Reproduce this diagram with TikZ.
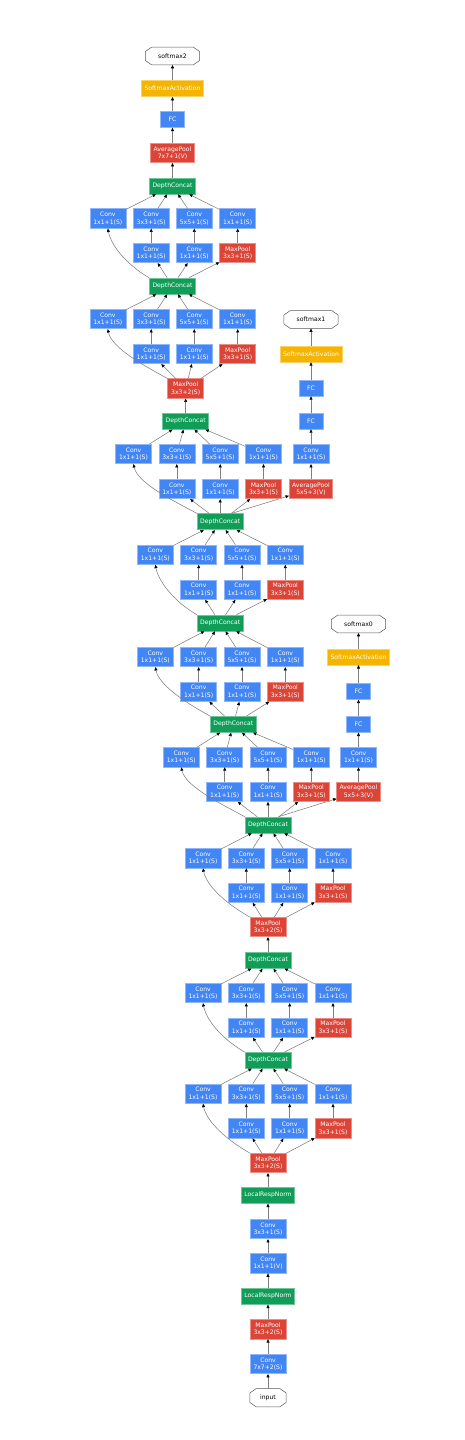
\documentclass[tikz,border=0pt]{standalone}
\usepackage{fontspec}
\setmainfont{DejaVu Sans}
\usetikzlibrary{arrows.meta}
\definecolor{gblue}{HTML}{4285F4}
\definecolor{gred}{HTML}{DB4437}
\definecolor{ggreen}{HTML}{0F9D58}
\definecolor{gyellow}{HTML}{F4B400}
\tikzset{
  box/.style={rectangle, text=white, font=\fontsize{6.1}{7.6}\selectfont, align=center, inner sep=1pt, line width=0.6pt},
  convb/.style={box, fill=gblue, draw=gblue!60!white, minimum width=36pt, minimum height=19.5pt},
  poolb/.style={box, fill=gred, draw=gred!60!white, minimum width=36pt, minimum height=19.5pt},
  avgb/.style={box, fill=gred, draw=gred!60!white, minimum width=43.5pt, minimum height=19.5pt},
  dcb/.style={box, fill=ggreen, draw=ggreen!60!white, minimum width=46pt, minimum height=16pt},
  lrnb/.style={box, fill=ggreen, draw=ggreen!60!white, minimum width=53pt, minimum height=16pt},
  fcb/.style={box, fill=gblue, draw=gblue!60!white, minimum width=24pt, minimum height=16pt},
  sab/.style={box, fill=gyellow, draw=gyellow!60!white, minimum width=62pt, minimum height=16pt},
  octline/.style={draw=black!65, line width=0.5pt},
  octb/.style={rectangle, text=black, font=\fontsize{6.1}{7.6}\selectfont,
    minimum width=54pt, minimum height=17.5pt, inner sep=1pt,
    append after command={\pgfextra{\let\octn\tikzlastnode
      \draw[octline] ([xshift=6.5pt]\octn.north west) -- ([xshift=-6.5pt]\octn.north east)
        -- ([yshift=-4.5pt]\octn.north east) -- ([yshift=4.5pt]\octn.south east)
        -- ([xshift=-6.5pt]\octn.south east) -- ([xshift=6.5pt]\octn.south west)
        -- ([yshift=4.5pt]\octn.south west) -- ([yshift=-4.5pt]\octn.north west) -- cycle;}}},
  arr/.style={draw=black!50, line width=0.55pt, -{Triangle[length=3.4pt,width=3pt,color=black]}},
}
\newcommand\incep[9]{%
  \node[convb] (#1a) at (#4,#8) {Conv\\1x1+1(S)};
  \node[convb] (#1b) at (#5,#8) {Conv\\3x3+1(S)};
  \node[convb] (#1c) at (#6,#8) {Conv\\5x5+1(S)};
  \node[convb] (#1d) at (#7,#8) {Conv\\1x1+1(S)};
  \node[convb] (#1e) at (#5,#9) {Conv\\1x1+1(S)};
  \node[convb] (#1f) at (#6,#9) {Conv\\1x1+1(S)};
  \node[poolb] (#1g) at (#7,#9) {MaxPool\\3x3+1(S)};
  \draw[arr] (#2.north west) .. controls +(-18,-10) and +(4,20) .. (#1a.south);
  \draw[arr] (#2) -- (#1e);
  \draw[arr] (#2) -- (#1f);
  \draw[arr] (#2) -- (#1g);
  \draw[arr] (#1e) -- (#1b);
  \draw[arr] (#1f) -- (#1c);
  \draw[arr] (#1g) -- (#1d);
  \draw[arr] (#1a) -- (#3);
  \draw[arr] (#1b) -- (#3);
  \draw[arr] (#1c) -- (#3);
  \draw[arr] (#1d) -- (#3);
}
\begin{document}
\begin{tikzpicture}[x=1pt,y=-1pt]
\path[use as bounding box, fill=white] (0,0) rectangle (465,1440);
% main trunk
\node[octb] (sm2) at (172.5,56) {softmax2};
\node[sab] (sa2) at (172.5,88.7) {SoftmaxActivation};
\node[fcb] (fc2) at (172.5,119.5) {FC};
\node[avgb] (avg2) at (172.5,153) {AveragePool\\7x7+1(V)};
\node[dcb] (dc9) at (172.5,186) {DepthConcat};
\node[dcb] (dc8) at (172.5,286) {DepthConcat};
\node[poolb] (mp4) at (185.7,388.5) {MaxPool\\3x3+2(S)};
\node[dcb] (dc7) at (185.7,421.3) {DepthConcat};
\node[dcb] (dc6) at (220.2,521.7) {DepthConcat};
\node[dcb] (dc5) at (220.2,623) {DepthConcat};
\node[dcb] (dc4) at (233.3,724.3) {DepthConcat};
\node[dcb] (dc3) at (268,825) {DepthConcat};
\node[poolb] (mp3) at (268,927) {MaxPool\\3x3+2(S)};
\node[dcb] (dc2) at (268,960.3) {DepthConcat};
\node[dcb] (dc1) at (268,1060.3) {DepthConcat};
\node[poolb] (mp2) at (268,1163) {MaxPool\\3x3+2(S)};
\node[lrnb] (lrn2) at (268,1195.3) {LocalRespNorm};
\node[convb] (cv3) at (268,1229) {Conv\\3x3+1(S)};
\node[convb] (cv2) at (268,1263.3) {Conv\\1x1+1(V)};
\node[lrnb] (lrn1) at (268,1296.3) {LocalRespNorm};
\node[poolb] (mp1) at (268,1329.2) {MaxPool\\3x3+2(S)};
\node[convb] (cv1) at (268,1364) {Conv\\7x7+2(S)};
\node[octb, minimum width=36pt, minimum height=18pt] (inp) at (268,1397.7) {input};
% auxiliary classifier 1
\node[avgb] (a1avg) at (311,489) {AveragePool\\5x5+3(V)};
\node[convb] (a1cv) at (311,454) {Conv\\1x1+1(S)};
\node[fcb] (a1fca) at (311,421) {FC};
\node[fcb] (a1fcb) at (311,388) {FC};
\node[sab] (a1sa) at (311,354) {SoftmaxActivation};
\node[octb] (sm1) at (311,319.5) {softmax1};
% auxiliary classifier 0
\node[avgb] (a0avg) at (358.5,791.8) {AveragePool\\5x5+3(V)};
\node[convb] (a0cv) at (358.5,757.2) {Conv\\1x1+1(S)};
\node[fcb] (a0fca) at (358.5,724.3) {FC};
\node[fcb] (a0fcb) at (358.5,691.3) {FC};
\node[sab] (a0sa) at (358.5,656.8) {SoftmaxActivation};
\node[octb] (sm0) at (358.5,624) {softmax0};
% trunk edges
\draw[arr] (inp) -- (cv1);
\draw[arr] (cv1) -- (mp1);
\draw[arr] (mp1) -- (lrn1);
\draw[arr] (lrn1) -- (cv2);
\draw[arr] (cv2) -- (cv3);
\draw[arr] (cv3) -- (lrn2);
\draw[arr] (lrn2) -- (mp2);
\draw[arr] (dc2) -- (mp3);
\draw[arr] (dc7) -- (mp4);
\draw[arr] (dc9) -- (avg2);
\draw[arr] (avg2) -- (fc2);
\draw[arr] (fc2) -- (sa2);
\draw[arr] (sa2) -- (sm2);
% aux edges
\draw[arr] ([xshift=11.5pt]dc6.north) -- (a1avg);
\draw[arr] (a1avg) -- (a1cv);
\draw[arr] (a1cv) -- (a1fca);
\draw[arr] (a1fca) -- (a1fcb);
\draw[arr] (a1fcb) -- (a1sa);
\draw[arr] (a1sa) -- (sm1);
\draw[arr] ([xshift=10.5pt]dc3.north) -- (a0avg);
\draw[arr] (a0avg) -- (a0cv);
\draw[arr] (a0cv) -- (a0fca);
\draw[arr] (a0fca) -- (a0fcb);
\draw[arr] (a0fcb) -- (a0sa);
\draw[arr] (a0sa) -- (sm0);
% inception modules
\incep{m3a}{mp2}{dc1}{203}{246.3}{289.7}{333}{1093.7}{1128.3}
\incep{m3b}{dc1}{dc2}{203}{246.3}{289.7}{333}{993}{1027.7}
\incep{m4a}{mp3}{dc3}{203}{246.3}{289.7}{333}{858.2}{892.7}
\incep{m4b}{dc3}{dc4}{181.3}{224.7}{268}{311.3}{757.2}{791.8}
\incep{m4c}{dc4}{dc5}{155.3}{198.7}{242}{285.3}{657}{691.7}
\incep{m4d}{dc5}{dc6}{155.3}{198.7}{242}{285.3}{554.7}{589.7}
\incep{m4e}{dc6}{dc7}{133.5}{176.8}{220.2}{263.5}{454}{489}
\incep{m5a}{mp4}{dc8}{107.8}{151.2}{194.3}{237.7}{319}{354}
\incep{m5b}{dc8}{dc9}{107.8}{151.2}{194.3}{237.7}{218.5}{253}
\end{tikzpicture}
\end{document}
